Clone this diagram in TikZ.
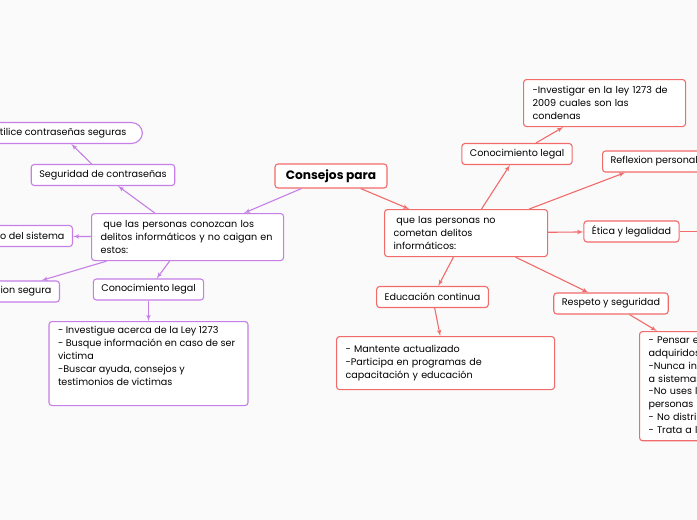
\documentclass[tikz,border=0pt]{standalone}
\usepackage{fontspec}
\setmainfont{Poppins}
\usepackage{tikz}
\usetikzlibrary{arrows,positioning}
\definecolor{rojo}{HTML}{F26B6B}
\definecolor{morado}{HTML}{C57FE6}
\definecolor{fondo}{HTML}{FAFAFA}

\begin{document}
\begin{tikzpicture}[
    x=1pt,
    y=-1pt,
    >=latex',
    font=\fontsize{9.6}{12.8}\selectfont,
    raiz/.style={
		rectangle,
		rounded corners=3pt,
		draw=rojo,
		line width=1.1pt,
		fill=white,
		text centered,
		minimum height=24pt,
		minimum width=112pt,
		font=\fontsize{12.2}{14}\selectfont\bfseries
	},
	rama/.style={
		rectangle,
		rounded corners=3pt,
		draw=#1,
		line width=1.1pt,
		fill=white,
		text centered,
		inner xsep=8pt,
		minimum height=21pt
	},
	bloque/.style={
		rectangle,
		rounded corners=3pt,
		draw=#1,
		line width=1.1pt,
		fill=white,
		align=left,
		inner xsep=9pt,
		inner ysep=5pt
	},
	enlace/.style={
	  draw=#1,
	  line width=1.1pt,
	  ->
    }
  ]

\clip (0,0) rectangle (697,520);
\fill [fondo] (0,0) rectangle (697,520);

 \node [raiz] (consejos) at (331,176) {Consejos para};

% // rama izquierda
 \node [bloque=morado, anchor=north west, text width=174pt, minimum height=47pt] (conozcan) at (91,213)
 {\hspace*{.3em}que las personas conozcan los\\delitos informáticos y no caigan en\\estos:};
 \node [rama=morado] (seguridad) at (103,175) {Seguridad de contraseñas};
 \node [rama=morado, rounded corners=11pt, inner xsep=16pt, anchor=east] (utilice) at (143,133) {Utilice contraseñas seguras};
 \node [rama=morado, anchor=east] (sistema) at (73,236) {Mantenimiento del sistema};
 \node [rama=morado, anchor=east] (navegacion) at (60,291.5) {Navegacion segura};
 \node [rama=morado] (legalizq) at (148.5,289.5) {Conocimiento legal};
 \node [bloque=morado, anchor=north] (investigue) at (148.5,321)
 {\parbox[t][74pt][t]{181pt}{\raggedright
  - Investigue acerca de la Ley 1273\\
  - Busque información en caso de ser\\
  victima\\
  -Buscar ayuda, consejos y\\
  testimonios de victimas}};

 \draw [enlace=morado] (consejos) -- (conozcan);
 \draw [enlace=morado] (conozcan) -- (seguridad);
 \draw [enlace=morado] (seguridad) -- (utilice);
 \draw [enlace=morado] (conozcan) -- (sistema);
 \draw [enlace=morado] (conozcan) -- (navegacion);
 \draw [enlace=morado] (conozcan) -- (legalizq);
 \draw [enlace=morado] (legalizq) -- (investigue);

% // rama derecha
 \node [bloque=rojo, anchor=north west, text width=145pt, minimum height=47pt] (cometan) at (384,209)
 {\hspace*{.3em}que las personas no\\cometan delitos\\informáticos:};
 \node [rama=rojo] (legalder) at (517,154) {Conocimiento legal};
 \node [bloque=rojo, anchor=north west, text width=144pt, minimum height=47pt] (investigar) at (523,79)
 {-Investigar en la ley 1273 de\\2009 cuales son las\\condenas};
 \node [rama=rojo, anchor=west] (reflexion) at (602,161.5) {Reflexion personal};
 \node [rama=rojo] (etica) at (631.5,231.5) {Ética y legalidad};
 \coordinate (eticasig) at (720,231.5);
 \node [rama=rojo] (educacion) at (432.5,297) {Educación continua};
 \node [bloque=rojo, anchor=north west, text width=200pt, minimum height=53pt] (mantente) at (336,336)
 {- Mantente actualizado\\-Participa en programas de\\capacitación y educación};
 \node [rama=rojo] (respeto) at (611,303.5) {Respeto y seguridad};
 \node [bloque=rojo, anchor=north west, text width=200pt, minimum height=109pt] (pensar) at (639,331)
 {- Pensar en el uso de los\\adquiridos conocimientos\\-Nunca intentes acceder\\a sistemas ajenos\\-No uses la información de otras\\personas\\- No distribuyas contenido ilegal\\- Trata a los demás con respeto};

 \draw [enlace=rojo] (consejos) -- (cometan);
 \draw [enlace=rojo] (cometan) -- (legalder);
 \draw [enlace=rojo] (legalder) -- (investigar);
 \draw [enlace=rojo] (cometan) -- (reflexion);
 \draw [enlace=rojo] (cometan) -- (etica);
 \draw [enlace=rojo] (etica) -- (eticasig);
 \draw [enlace=rojo] (cometan) -- (educacion);
 \draw [enlace=rojo] (educacion) -- (mantente);
 \draw [enlace=rojo] (cometan) -- (respeto);
 \draw [enlace=rojo] (respeto) -- (pensar);

\end{tikzpicture}
\end{document}
